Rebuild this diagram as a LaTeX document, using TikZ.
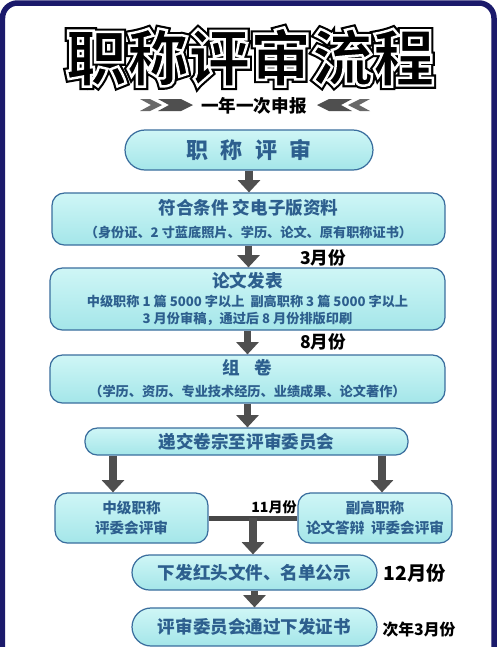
\documentclass[tikz,border=0pt]{standalone}
\usepackage{fontspec}
\newfontfamily\cjk{Noto Sans CJK SC}
\newfontfamily\titleouter[BoldFeatures={FakeBold=11}]{Noto Sans CJK SC}
\newfontfamily\titleinner[BoldFeatures={FakeBold=4}]{Noto Sans CJK SC}
\usetikzlibrary{arrows.meta, calc, positioning, shapes.misc}

\definecolor{framenavy}{HTML}{1B1A6B}
\definecolor{boxline}{HTML}{3A6E9E}
\definecolor{boxtop}{HTML}{CFF6F6}
\definecolor{boxbot}{HTML}{A4E6E9}
\definecolor{boxtext}{HTML}{2D5F8E}
\definecolor{arrowgray}{HTML}{4F4F4F}

\tikzset{
  stepbox/.style={draw=boxline, line width=0.7pt, rounded corners=7pt,
    top color=boxtop, bottom color=boxbot, text=boxtext, align=center,
    inner sep=0pt},
  pillbox/.style={stepbox, rounded rectangle, rounded corners=0pt},
  flowarrow/.style={draw=arrowgray, line width=4.5pt,
    -{Triangle[width=12.5pt, length=7pt]}},
  monthnote/.style={font=\cjk\bfseries\fontsize{10}{12}\selectfont, text=black},
}

\begin{document}
\begin{tikzpicture}[x=0.02cm, y=-0.02cm]
  \useasboundingbox (0,0) rectangle (500,647);
  % outer frame
  \fill[white] (0,0) rectangle (500,647);
  \draw[framenavy, line width=0.11cm, rounded corners=0.3cm] (2.5,3) rectangle (494,700);

  % title: black rim, then white rim round black letters
  \node[text=black, font=\titleouter\bfseries\fontsize{35}{40}\selectfont] (titleback) at (250,57)
    {职称评审流程};
  \node[font=\titleinner\bfseries\fontsize{35}{40}\selectfont] (title) at (250,57)
    {\special{pdf:bcolor [0] [1]}职称评审流程\special{pdf:ecolor}};

  % subtitle with chevrons
  \node[font=\cjk\bfseries\fontsize{10}{12}\selectfont] (yearly) at (254,106) {一年一次申报};
  \foreach \s in {1,-1} {
    \begin{scope}[shift={(255,0)}, xscale=\s]
      \fill[arrowgray!85] (-115,99) -- (-105,99) -- (-93,105) -- (-105,111) -- (-115,111) -- (-104,105) -- cycle;
      \fill[arrowgray] (-97,99) -- (-74,99) -- (-62,105) -- (-74,111) -- (-97,111) -- (-86,105) -- cycle;
    \end{scope}
  }

  % boxes
  \node[pillbox, minimum width=4.96cm, minimum height=0.8cm,
    font=\cjk\bfseries\fontsize{12.5}{14}\selectfont] (start) at (249,150)
    {职\hspace{7pt}称\hspace{7pt}评\hspace{7pt}审};
  \node[stepbox, minimum width=7.86cm, minimum height=1.04cm,
    font=\cjk\bfseries\fontsize{7.5}{13.5}\selectfont] (submit) at (248.5,219)
    {{\fontsize{10}{12}\selectfont 符合条件\ 交电子版资料}\\（身份证、2 寸蓝底照片、学历、论文、原有职称证书）};
  \node[stepbox, minimum width=7.9cm, minimum height=1.24cm,
    font=\cjk\bfseries\fontsize{7.5}{9.7}\selectfont] (paper) at (247.5,299)
    {{\fontsize{10}{12}\selectfont 论文发表}\\[1.5pt]中级职称 1 篇 5000 字以上\ \ 副高职称 3 篇 5000 字以上\\3 月份审稿，通过后 8 月份排版印刷};
  \node[stepbox, minimum width=7.9cm, minimum height=0.96cm,
    font=\cjk\bfseries\fontsize{7.5}{12.5}\selectfont] (dossier) at (247.5,379)
    {{\fontsize{10}{12}\selectfont 组\hspace{8pt}卷}\\（学历、资历、专业技术经历、业绩成果、论文著作）};
  \node[stepbox, minimum width=6.46cm, minimum height=0.54cm,
    font=\cjk\bfseries\fontsize{10}{12}\selectfont] (committee) at (246.5,441.5)
    {递交卷宗至评审委员会};
  \node[stepbox, minimum width=3.06cm, minimum height=1.0cm,
    font=\cjk\bfseries\fontsize{8.3}{11.4}\selectfont] (middle) at (131.5,518)
    {中级职称\\评委会评审};
  \node[stepbox, minimum width=3.08cm, minimum height=1.0cm,
    font=\cjk\bfseries\fontsize{8.3}{11.4}\selectfont] (senior) at (375,518)
    {副高职称\\论文答辩\ \ 评委会评审};
  \node[pillbox, minimum width=4.9cm, minimum height=0.7cm,
    font=\cjk\bfseries\fontsize{10}{12}\selectfont] (publish) at (254.5,572.5)
    {下发红头文件、名单公示};
  \node[pillbox, minimum width=4.9cm, minimum height=0.76cm,
    font=\cjk\bfseries\fontsize{10}{12}\selectfont] (certify) at (254.5,627)
    {评审委员会通过下发证书};

  % arrows
  \draw[flowarrow] (start.south) -- (start.south |- submit.north);
  \draw[flowarrow] (submit.south) -- (submit.south |- paper.north);
  \draw[flowarrow] (paper.south) -- (paper.south |- dossier.north);
  \draw[flowarrow] (dossier.south) -- (dossier.south |- committee.north);
  \draw[flowarrow] ([xshift=-0.37cm]middle.north |- committee.south) -- ([xshift=-0.37cm]middle.north);
  \draw[flowarrow] ([xshift=0.14cm]senior.north |- committee.south) -- ([xshift=0.14cm]senior.north);
  \draw[arrowgray!90!black, line width=0.1cm] (middle) -- (senior);
  \coordinate (join) at ($(middle.east)!0.5!(senior.west)$);
  \draw[flowarrow] (join) -- (join |- publish.north);
  \draw[flowarrow] (publish.south) -- (publish.south |- certify.north);

  % months
  \node[monthnote] (m3) at (323,258) {3月份};
  \node[monthnote] (m8) at (323,342) {8月份};
  \node[monthnote, font=\cjk\bfseries\fontsize{8}{10}\selectfont] (m11) at (274,507) {11月份};
  \node[monthnote, font=\cjk\bfseries\fontsize{11}{13}\selectfont] (m12) at (415,573) {12月份};
  \node[monthnote, font=\cjk\bfseries\fontsize{9}{11}\selectfont] (mnext) at (419,630) {次年3月份};
\end{tikzpicture}
\end{document}
